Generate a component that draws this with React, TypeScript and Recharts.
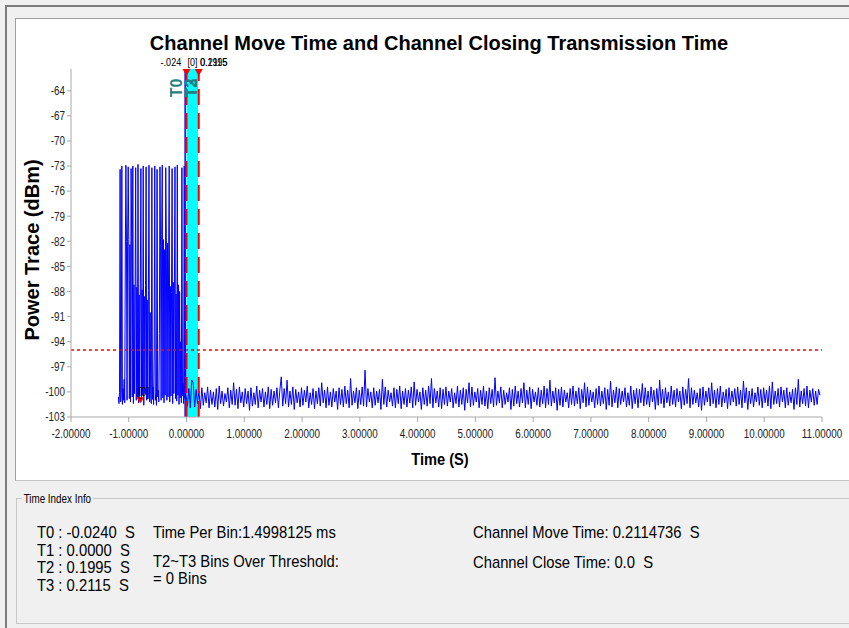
import React from 'react';
import { LineChart, Line, XAxis, YAxis, ReferenceLine, ReferenceArea, ReferenceDot } from 'recharts';

const FONT = "'Liberation Sans', Arial, sans-serif";
const TEAL = '#1f8080';
const SQUEEZE = 0.82; // the app's UI font is a narrow one

// burst part of the power trace, one sample every 10 ms starting at -1.18 s
const burstStart = -1.18;
const burstBin = 0.01;
const burstPower: number[] = [
  -100.6, -101.4, -100.1, -73.4, -101.2, -100.3, -73.0, -101.5, -99.6, -101.0,
  -98.5, -101.3, -84.0, -72.9, -82.0, -101.0, -81.6, -73.1, -81.8, -100.8,
  -82.4, -101.2, -73.3, -81.5, -100.6, -73.0, -101.4, -87.2, -100.2, -88.0,
  -73.2, -101.0, -87.5, -100.7, -72.8, -101.3, -88.4, -100.5, -87.0, -73.3,
  -101.1, -87.8, -100.4, -73.0, -101.6, -88.6, -100.2, -87.3, -73.1, -101.0,
  -89.0, -100.7, -87.9, -72.9, -101.2, -90.5, -100.5, -101.4, -73.2, -100.9,
  -99.4, -101.5, -95.0, -73.0, -101.0, -100.3, -101.6, -73.4, -100.6, -99.8,
  -101.2, -93.0, -73.1, -82.5, -101.0, -81.2, -72.9, -100.7, -81.8, -101.3,
  -83.0, -100.4, -73.2, -81.5, -101.0, -82.2, -100.6, -84.0, -73.0, -101.2,
  -87.4, -100.5, -88.1, -73.3, -101.4, -86.9, -100.2, -87.6, -73.1, -100.8,
  -88.3, -101.1, -72.9, -100.4, -87.2, -101.5, -88.0, -100.7, -94.0, -101.3,
  -73.2, -100.5, -99.0, -101.4, -73.0, -100.8, -88.5,
];

// noise floor after the channel move, one sample every 25 ms starting at -0.01 s
const noiseStart = -0.01;
const noiseBin = 0.025;
const noisePower: number[] = [
  -100.3, -101.7, -99.6, -101.9, -98.6, -98.9, -101.8, -99.7, -101.4, -99.9,
  -102.0, -99.5, -101.6, -100.1, -101.3, -99.4, -101.9, -99.8, -101.5, -100.0,
  -101.8, -99.6, -102.1, -99.3, -101.4, -99.9, -101.7, -100.2, -101.2, -99.5,
  -101.9, -99.8, -101.5, -98.9, -101.6, -99.7, -102.0, -99.4, -101.3, -100.0,
  -101.8, -99.6, -101.4, -99.9, -102.2, -99.5, -101.7, -100.1, -101.5, -99.3,
  -101.9, -99.8, -101.2, -99.6, -101.8, -100.0, -101.5, -99.4, -102.0, -99.7,
  -101.6, -99.9, -101.3, -99.5, -101.9, -99.8, -98.2, -101.7, -99.6, -101.4,
  -98.6, -101.8, -99.9, -101.5, -99.4, -102.1, -99.7, -101.3, -100.0, -101.8,
  -99.5, -101.6, -99.8, -101.2, -99.3, -101.9, -100.1, -101.5, -99.6, -102.0,
  -99.9, -101.4, -99.5, -101.7, -98.9, -101.3, -99.8, -101.9, -99.4, -101.6,
  -100.0, -101.8, -99.6, -101.2, -99.9, -102.1, -99.5, -101.5, -99.7, -101.8,
  -99.3, -101.4, -99.8, -101.9, -98.4, -101.6, -99.9, -101.3, -99.5, -102.0,
  -99.8, -101.5, -99.4, -101.7, -97.4, -101.8, -99.6, -101.2, -100.0, -101.9,
  -99.5, -101.6, -99.9, -101.3, -99.7, -102.1, -98.5, -101.5, -99.4, -101.8,
  -99.8, -101.2, -100.1, -101.7, -99.5, -101.9, -99.7, -101.4, -99.3, -102.0,
  -99.9, -101.5, -99.6, -101.8, -99.8, -101.3, -99.4, -101.9, -98.8, -101.6,
  -99.7, -101.2, -100.0, -102.1, -99.5, -101.5, -99.8, -101.7, -99.3, -101.4,
  -98.4, -101.9, -99.6, -101.3, -99.9, -101.8, -99.5, -102.0, -99.7, -101.5,
  -99.4, -101.7, -99.9, -101.2, -99.6, -101.9, -100.1, -101.4, -99.3, -101.8,
  -99.8, -101.5, -99.5, -102.2, -99.7, -101.3, -98.9, -101.8, -99.4, -101.6,
  -100.0, -101.2, -99.6, -101.9, -99.8, -101.5, -99.3, -101.7, -99.9, -102.0,
  -99.5, -101.4, -99.7, -101.8, -98.3, -101.6, -99.9, -101.3, -99.4, -101.9,
  -99.8, -101.5, -100.1, -101.2, -99.5, -102.1, -99.7, -101.7, -99.3, -101.4,
  -99.9, -101.8, -99.6, -101.3, -98.9, -101.9, -99.8, -101.5, -99.4, -102.0,
  -99.7, -101.2, -100.0, -101.6, -99.5, -101.8, -99.8, -101.4, -99.3, -101.9,
  -99.6, -101.5, -98.6, -101.7, -99.9, -101.3, -99.5, -102.2, -99.7, -101.6,
  -99.4, -101.8, -99.8, -101.2, -100.1, -101.9, -99.6, -101.5, -99.3, -101.7,
  -99.9, -101.4, -99.5, -102.0, -99.7, -101.3, -98.9, -101.8, -99.4, -101.6,
  -99.8, -101.2, -100.0, -101.9, -99.6, -101.5, -99.3, -101.7, -99.9, -101.4,
  -99.5, -102.1, -99.7, -101.6, -98.7, -101.8, -99.8, -101.3, -99.4, -101.9,
  -99.6, -101.5, -99.9, -101.2, -99.5, -101.8, -100.1, -101.6, -99.3, -102.0,
  -99.8, -101.4, -99.6, -101.9, -99.7, -101.3, -99.0, -101.7, -99.5, -101.5,
  -99.9, -101.8, -99.4, -101.2, -99.8, -102.1, -99.6, -101.6, -98.6, -101.4,
  -99.7, -101.9, -99.5, -101.3, -100.0, -101.7, -99.3, -101.5, -99.8, -101.8,
  -99.6, -101.2, -99.9, -102.0, -99.4, -101.6, -99.7, -101.4, -98.4, -101.9,
  -99.5, -101.5, -99.8, -101.3, -100.1, -101.8, -99.6, -102.2, -99.4, -101.6,
  -99.9, -101.2, -99.5, -101.7, -98.9, -101.4, -99.8, -101.9, -99.6, -101.5,
  -99.3, -101.8, -100.0, -101.3, -99.7, -102.0, -99.5, -101.6, -99.9, -101.2,
  -99.6, -101.7, -99.4, -101.5, -99.8, -101.9, -98.7, -101.3, -99.5, -102.1,
  -99.9, -101.4, -99.6, -101.8, -100.1, -101.2, -99.4, -101.6, -99.7, -101.9,
  -99.5, -101.3, -99.8, -101.7, -99.3, -102.0, -98.8, -101.5, -99.9, -101.4,
  -99.6, -101.8, -99.4, -101.2, -99.8, -101.9, -99.5, -101.6, -100.0, -101.3,
  -99.7, -102.1, -99.5, -101.5, -98.5, -101.8, -99.9, -101.4, -99.6, -101.7,
  -99.3, -101.9, -99.8, -101.2, -99.6, -101.6, -99.9, -101.5, -99.7, -100.4,
];

const xTicks = [-2, -1, 0, 1, 2, 3, 4, 5, 6, 7, 8, 9, 10, 11];
const yTicks = [-103, -100, -97, -94, -91, -88, -85, -82, -79, -76, -73, -70, -67, -64];

const threshold = -95;
const markerNames = ['T0', 'T1', 'T2', 'T3'];
const markerTimes = [-0.024, 0.0, 0.1995, 0.2115];
const markerTopLabels = ['-.024', '[0]', '0.1995', '0.2115'];
const peakMarker = { t: -0.8, v: -101 };

const timePerBin = '1.4998125 ms';
const binsOverThreshold = 0;
const channelMoveTime = '0.2114736';
const channelCloseTime = '0.0';

const trace = [
  ...burstPower.map((v, i) => ({ t: +(burstStart + i * burstBin).toFixed(3), v })),
  ...noisePower.map((v, i) => ({ t: +(noiseStart + i * noiseBin).toFixed(3), v })),
];

const vb = (p: any) => p.viewBox || { x: 0, y: 0, width: 0, height: 0 };

const XTick = (p: any) => (
  <g transform={`translate(${p.x},${p.y}) scale(${SQUEEZE},1)`}>
    <text textAnchor="middle" dy="0.71em" fill="#222" fontFamily={FONT} fontSize={12}>
      {Number(p.payload.value).toFixed(5)}
    </text>
  </g>
);

const YTick = (p: any) => (
  <g transform={`translate(${p.x},${p.y}) scale(${SQUEEZE},1)`}>
    <text textAnchor="end" dy="0.355em" fill="#222" fontFamily={FONT} fontSize={12}>
      {p.payload.value}
    </text>
  </g>
);

const RotatedName = ({ x, y, name }: { x: number; y: number; name: string }) => (
  <text
    x={x}
    y={y}
    transform={`rotate(-90 ${x} ${y})`}
    textAnchor="middle"
    dominantBaseline="central"
    fill={TEAL}
    fontFamily={FONT}
    fontWeight="bold"
    fontSize={16}
  >
    {name}
  </text>
);

const Triangle = ({ x, y }: { x: number; y: number }) => (
  <polygon points={`${x - 4},${y} ${x + 4},${y} ${x},${y + 7}`} fill="#ff0000" />
);

const topText = (x: number, y: number, s: string, anchor: string) => (
  <g transform={`translate(${x},${y}) scale(${SQUEEZE},1)`}>
    <text textAnchor={anchor} fontFamily={FONT} fontSize={11} fill="#000">
      {s}
    </text>
  </g>
);

const narrowBlock = (left: number, top: number, size: number): React.CSSProperties => ({
  position: 'absolute',
  left,
  top,
  fontFamily: FONT,
  fontSize: size,
  whiteSpace: 'pre',
  color: '#000',
  transform: 'scaleX(0.87)',
  transformOrigin: 'left top',
});

const App: React.FC = () => {
  const infoRow = (i: number) => `${markerNames[i]} : ${markerTimes[i].toFixed(4)}  S`;
  return (
    <div style={{ position: 'absolute', left: 0, top: 0, width: 849, height: 628, background: '#f0f0f0', overflow: 'hidden', fontFamily: FONT }}>
      <div style={{ position: 'absolute', left: 5, top: 5, width: 860, height: 640, borderTop: '2px solid #7c7c7c', borderLeft: '2px solid #7c7c7c' }} />
      <div style={{ position: 'absolute', left: 15, top: 18, width: 850, height: 461, background: '#fff', borderTop: '1px solid #a0a0a0', borderLeft: '1px solid #a0a0a0', borderBottom: '1px solid #c4c4c4' }} />
      <div style={{ position: 'absolute', left: 0, top: 0 }}>
        <LineChart width={849} height={480} data={trace} margin={{ top: 69, right: 27, bottom: 33, left: 21 }}>
          <XAxis
            type="number"
            dataKey="t"
            domain={[-2, 11]}
            ticks={xTicks}
            allowDataOverflow
            height={30}
            tickSize={5}
            tickMargin={7}
            stroke="#a8a8a8"
            tick={XTick}
          />
          <YAxis
            type="number"
            domain={[-103, -61.4]}
            ticks={yTicks}
            allowDataOverflow
            width={50}
            tickSize={4}
            tickMargin={2}
            stroke="#a8a8a8"
            tick={YTick}
          />
          <ReferenceArea x1={markerTimes[1]} x2={markerTimes[2]} fill="#00ffff" fillOpacity={1} stroke="none" />
          <Line type="linear" dataKey="v" stroke="#0000ff" strokeWidth={1} dot={false} isAnimationActive={false} />
          <ReferenceLine y={threshold} stroke="#ff0000" strokeWidth={1.5} strokeDasharray="3 3" />
          <ReferenceLine
            x={markerTimes[0]}
            stroke="#0000ff"
            strokeWidth={1.5}
            label={(p: any) => {
              const b = vb(p);
              return (
                <g>
                  {topText(b.x - 4, b.y - 3, markerTopLabels[0], 'end')}
                  <RotatedName x={b.x - 9} y={b.y + 19} name={markerNames[0]} />
                </g>
              );
            }}
          />
          <ReferenceLine
            x={markerTimes[1]}
            stroke="#ff0000"
            strokeWidth={2}
            strokeDasharray="16 8"
            label={(p: any) => {
              const b = vb(p);
              return (
                <g>
                  {topText(b.x + 1, b.y - 3, markerTopLabels[1], 'start')}
                  <Triangle x={b.x} y={b.y} />
                </g>
              );
            }}
          />
          <ReferenceLine
            x={markerTimes[2]}
            stroke="none"
            label={(p: any) => {
              const b = vb(p);
              return (
                <g>
                  {topText(b.x + 2, b.y - 3, markerTopLabels[2], 'start')}
                  <RotatedName x={b.x - 7} y={b.y + 19} name={markerNames[2]} />
                </g>
              );
            }}
          />
          <ReferenceLine
            x={markerTimes[3]}
            stroke="#ff0000"
            strokeWidth={2}
            strokeDasharray="16 8"
            label={(p: any) => {
              const b = vb(p);
              return (
                <g>
                  {topText(b.x + 1.5, b.y - 3, markerTopLabels[3], 'start')}
                  <RotatedName x={b.x - 7.5} y={b.y + 19} name={markerNames[3]} />
                  <Triangle x={b.x} y={b.y} />
                </g>
              );
            }}
          />
          <ReferenceDot
            x={peakMarker.t}
            y={peakMarker.v}
            shape={(p: any) => (
              <g>
                <polygon points={`${p.cx - 4},${p.cy - 3} ${p.cx + 4},${p.cy - 3} ${p.cx},${p.cy + 3}`} fill="#ff0000" />
                <g transform={`translate(${p.cx - 2},${p.cy - 4}) scale(${SQUEEZE},1)`}>
                  <text fontFamily={FONT} fontSize={12} fill="#000">[0]</text>
                </g>
              </g>
            )}
          />
        </LineChart>
      </div>

      <div style={{ position: 'absolute', left: 439, top: 31, transform: 'translateX(-50%)', whiteSpace: 'nowrap', fontFamily: FONT, fontWeight: 'bold', fontSize: 20, lineHeight: '24px', color: '#000' }}>
        Channel Move Time and Channel Closing Transmission Time
      </div>
      <div style={{ position: 'absolute', left: 32, top: 250, transform: 'translate(-50%, -50%) rotate(-90deg)', whiteSpace: 'nowrap', fontFamily: FONT, fontWeight: 'bold', fontSize: 20, lineHeight: '22px', color: '#000' }}>
        Power Trace (dBm)
      </div>
      <div style={{ position: 'absolute', left: 440, top: 460, transform: 'translate(-50%, -50%) scaleX(0.86)', whiteSpace: 'nowrap', fontFamily: FONT, fontWeight: 'bold', fontSize: 17, lineHeight: '20px', color: '#000' }}>
        Time (S)
      </div>

      <div style={{ position: 'absolute', left: 16, top: 498, width: 860, height: 124, border: '1px solid #c8c8c8' }} />
      <div style={{ ...narrowBlock(22, 492, 12), transform: `scaleX(${SQUEEZE})`, padding: '0 2px', background: '#f0f0f0', lineHeight: '15px' }}>
        Time Index Info
      </div>
      <div style={{ ...narrowBlock(37, 524, 17), lineHeight: '17.7px' }}>
        {markerNames.map((_, i) => (
          <div key={i}>{infoRow(i)}</div>
        ))}
      </div>
      <div style={{ ...narrowBlock(153, 524, 17), lineHeight: '17.7px' }}>
        <div>{`Time Per Bin:${timePerBin}`}</div>
        <div style={{ marginTop: 11 }}>T2~T3 Bins Over Threshold:</div>
        <div>{`= ${binsOverThreshold} Bins`}</div>
      </div>
      <div style={{ ...narrowBlock(473, 524, 17), lineHeight: '17.7px' }}>
        <div>{`Channel Move Time: ${channelMoveTime}  S`}</div>
        <div style={{ marginTop: 12 }}>{`Channel Close Time: ${channelCloseTime}  S`}</div>
      </div>
    </div>
  );
};

export default App;
